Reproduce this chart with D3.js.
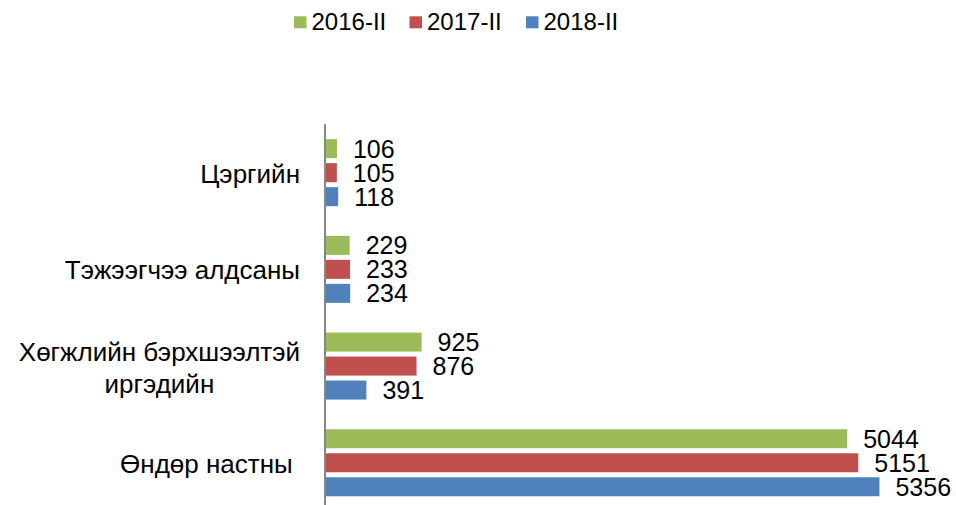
<!DOCTYPE html>
<html>
<head>
<meta charset="utf-8">
<script src="https://cdn.jsdelivr.net/npm/d3@7"></script>
<style>
  html, body { margin: 0; padding: 0; background: #fff; }
  svg { display: block; font-family: "Liberation Sans", Arial, sans-serif; }
</style>
</head>
<body>
<svg id="chart" width="956" height="505"></svg>
<script>
// ---- data ----
const categories = [
  ["Цэргийн"],
  ["Тэжээгчээ алдсаны"],
  ["Хөгжлийн бэрхшээлтэй", "иргэдийн"],
  ["Өндөр настны "]
];
const seriesNames = ["2016-II", "2017-II", "2018-II"];
const values2016 = [106, 229, 925, 5044];
const values2017 = [105, 233, 876, 5151];
const values2018 = [118, 234, 391, 5356];
const seriesColors = ["#9BBB59", "#C0504D", "#4F81BD"];

const seriesValues = [values2016, values2017, values2018];

const svg = d3.select("#chart");
const W = 956, H = 505;

const catKeys = categories.map((c, i) => i);
const y = d3.scaleBand().domain(catKeys).range([124.3, 124.3 + 4 * 96.7]);
const ySub = d3.scaleBand().domain(seriesNames).range([-36, 36])
  .paddingInner(5 / 24).paddingOuter(2.5 / 24);
const x = d3.scaleLinear().domain([0, 6000]).range([326, 946]);

// bars
catKeys.forEach(ci => {
  const cy = y(ci) + y.bandwidth() / 2;
  const g = svg.append("g").attr("transform", `translate(0,${cy})`);
  seriesNames.forEach((s, si) => {
    const v = seriesValues[si][ci];
    g.append("rect")
      .attr("x", x(0))
      .attr("y", ySub(s))
      .attr("width", x(v) - x(0))
      .attr("height", ySub.bandwidth())
      .attr("fill", seriesColors[si]);
    g.append("text")
      .attr("x", x(v) + 16)
      .attr("y", ySub(s) + ySub.bandwidth() / 2 + 9)
      .attr("font-size", 25)
      .attr("fill", "#000")
      .text(v);
  });
});

// axis line
svg.append("line")
  .attr("x1", 325).attr("x2", 325)
  .attr("y1", y.range()[0]).attr("y2", H)
  .attr("stroke", "#868686").attr("stroke-width", 2);

// category labels
const catFont = 26;
catKeys.forEach(ci => {
  const lines = categories[ci];
  const cy = y(ci) + y.bandwidth() / 2;
  const lh = 32.5;
  const t = svg.append("text")
    .attr("font-size", catFont)
    .attr("fill", "#000")
    .style("white-space", "pre");
  if (lines.length === 1) {
    t.attr("x", 300).attr("y", cy + 10).attr("text-anchor", "end").text(lines[0]);
  } else {
    const tmp = svg.append("text").attr("font-size", catFont).text(lines[0]);
    const w = tmp.node().getComputedTextLength();
    tmp.remove();
    const cx = 300 - w / 2;
    t.attr("text-anchor", "middle");
    lines.forEach((ln, li) => {
      t.append("tspan")
        .attr("x", cx)
        .attr("y", cy - 5.5 + li * lh)
        .text(ln);
    });
  }
});

// legend
const legendX = [294, 409.5, 526];
seriesNames.forEach((s, si) => {
  svg.append("rect")
    .attr("x", legendX[si]).attr("y", 16.3)
    .attr("width", 12.5).attr("height", 12)
    .attr("fill", seriesColors[si]);
  svg.append("text")
    .attr("x", legendX[si] + 17.5).attr("y", 30)
    .attr("font-size", 24)
    .attr("fill", "#000")
    .text(s);
});
</script>
</body>
</html>
